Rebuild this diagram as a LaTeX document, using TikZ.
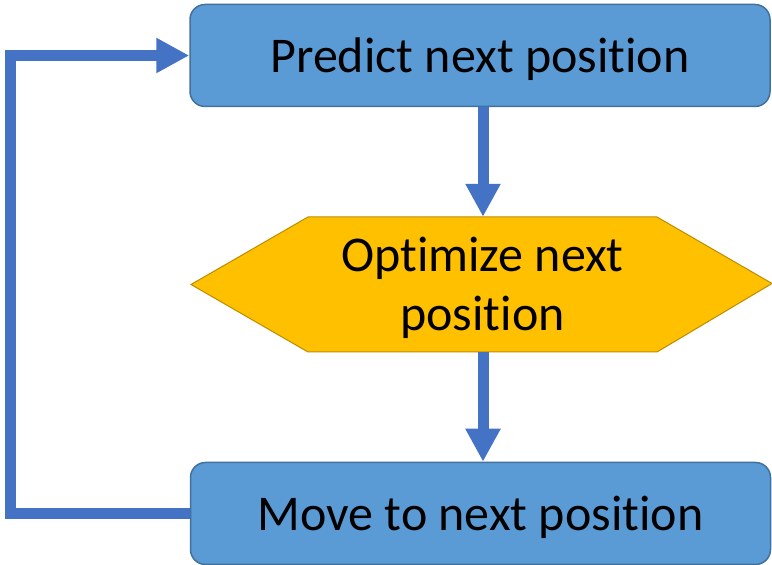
\documentclass[tikz,border=0pt]{standalone}
\usepackage{fontspec}
\setmainfont{Carlito}[Ligatures=NoCommon]
\usetikzlibrary{arrows.meta}
\definecolor{boxfill}{HTML}{5B9BD5}
\definecolor{boxline}{HTML}{41719C}
\definecolor{hexfill}{HTML}{FFC000}
\definecolor{hexline}{HTML}{BC8C00}
\definecolor{flowcol}{HTML}{4472C4}
% sit the text a little below the geometric centre of its shape
\newcommand{\lowtext}[1]{\raisebox{-5pt}[\height][\depth]{\begin{tabular}{@{}c@{}}#1\end{tabular}}}
\begin{document}
\begin{tikzpicture}[x=1pt,y=1pt,
  stepbox/.style={rectangle, rounded corners=15pt, draw=boxline, line width=1.5pt,
    fill=boxfill, minimum width=580pt, minimum height=102pt, inner sep=0pt,
    font=\fontsize{50}{59}\selectfont},
  flow/.style={draw=flowcol, line width=11pt, line join=miter,
    -{Triangle[length=33pt,width=33pt]}}]
\useasboundingbox (0,0) rectangle (772,565);
% action boxes
\node[stepbox] (pred) at (480,509.5) {\lowtext{Predict next position}};
\node[stepbox] (move) at (480.5,51.5) {\lowtext{Move to next position}};
% hexagonal decision shape
\fill[hexfill, draw=hexline, line width=1pt]
  (191,280.5) -- (308,348) -- (657,348) -- (772,281.5) -- (657,213) -- (308,213) -- cycle;
\node[minimum width=581pt, minimum height=135pt, inner sep=0pt,
  font=\fontsize{50}{59}\selectfont] (opt) at (482.5,280.5) {\lowtext{Optimize next\\position}};
% connectors
\draw[flow] (pred.south -| 483,0) -- (opt.north -| 483,0);
\draw[flow] (opt.south -| 483,0) -- (move.north -| 483,0);
\coordinate (loop) at (10,51.5);
\draw[flow] (move.west) -- (move.west -| loop) |- (pred.west);
\end{tikzpicture}
\end{document}
